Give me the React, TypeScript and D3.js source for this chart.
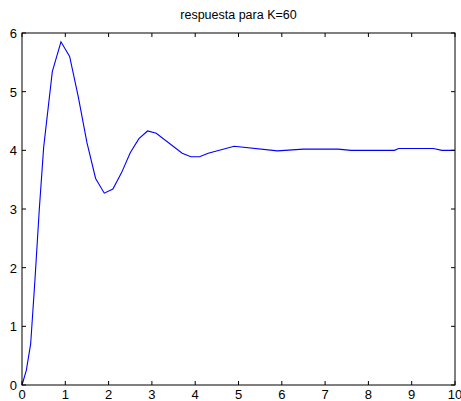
import React from "react";
import * as d3 from "d3";

// Step response samples (time, output)
const times = [0, 0.1, 0.2, 0.3, 0.4, 0.5, 0.7, 0.9, 1.1, 1.3, 1.5, 1.7, 1.9, 2.1, 2.3, 2.5, 2.7, 2.9, 3.1, 3.7, 3.9, 4.1, 4.3, 4.9, 5.9, 6.5, 7.3, 7.6, 8.6, 8.7, 9.5, 9.7, 10];
const outputs = [0, 0.25, 0.7, 1.8, 3.0, 4.05, 5.34, 5.85, 5.6, 4.91, 4.13, 3.52, 3.27, 3.34, 3.62, 3.96, 4.2, 4.33, 4.29, 3.95, 3.89, 3.89, 3.95, 4.07, 3.99, 4.02, 4.02, 4.0, 4.0, 4.03, 4.03, 4.0, 4.0];
const xTicks = [0, 1, 2, 3, 4, 5, 6, 7, 8, 9, 10];
const yTicks = [0, 1, 2, 3, 4, 5, 6];
const title = "respuesta para K=60";

const W = 461;
const H = 401;
const left = 22;
const right = 455;
const top = 33;
const bottom = 385;
const tickLen = 4;
const font = "Liberation Sans, Arial, sans-serif";

export default function App() {
  const x = d3.scaleLinear().domain([0, 10]).range([left, right]);
  const y = d3.scaleLinear().domain([0, 6]).range([bottom, top]);
  const pts: [number, number][] = times.map((t, i) => [t, outputs[i]]);
  const line = d3
    .line<[number, number]>()
    .x((d) => x(d[0]))
    .y((d) => y(d[1]));

  return (
    <svg
      width={W}
      height={H}
      style={{ position: "absolute", left: 0, top: 0, background: "#fff" }}
      fontFamily={font}
    >
      <rect x={0} y={0} width={W} height={H} fill="#fff" />
      <text x={(left + right) / 2} y={19} textAnchor="middle" fontSize={12.5} fill="#000">
        {title}
      </text>
      <path d={line(pts) || ""} fill="none" stroke="#0000ff" strokeWidth={1.1} />
      {/* x ticks, top and bottom */}
      {xTicks.map((t) => (
        <g key={"x" + t}>
          <line x1={x(t)} x2={x(t)} y1={bottom} y2={bottom - tickLen} stroke="#000" />
          <line x1={x(t)} x2={x(t)} y1={top} y2={top + tickLen} stroke="#000" />
          <text x={x(t)} y={398.5} textAnchor="middle" fontSize={13} fill="#000">
            {t}
          </text>
        </g>
      ))}
      {/* y ticks, left and right */}
      {yTicks.map((v) => (
        <g key={"y" + v}>
          <line x1={left} x2={left + tickLen} y1={y(v)} y2={y(v)} stroke="#000" />
          <line x1={right} x2={right - tickLen} y1={y(v)} y2={y(v)} stroke="#000" />
          <text x={17} y={y(v) + 5} textAnchor="end" fontSize={13} fill="#000">
            {v}
          </text>
        </g>
      ))}
      <rect
        x={left}
        y={top}
        width={right - left}
        height={bottom - top}
        fill="none"
        stroke="#000"
        strokeWidth={1}
      />
    </svg>
  );
}
